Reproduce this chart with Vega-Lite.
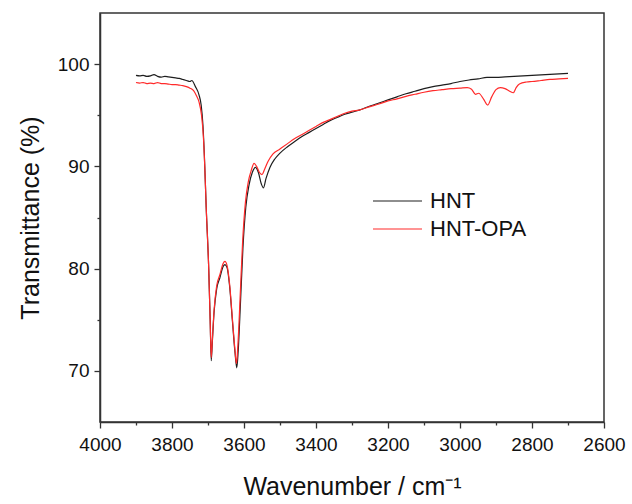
{
  "$schema": "https://vega.github.io/schema/vega-lite/v6.json",
  "autosize": "none",
  "width": 504,
  "height": 409,
  "padding": {"left": 100, "top": 13, "right": 28, "bottom": 82},
  "background": "white",
  "config": {
    "view": {"stroke": "#333333", "strokeWidth": 1.5},
    "font": "Liberation Sans"
  },
  "data": {
    "values": [
      {"w": 3900, "t": 98.9, "s": "HNT"},
      {"w": 3890, "t": 98.85, "s": "HNT"},
      {"w": 3880, "t": 98.9, "s": "HNT"},
      {"w": 3870, "t": 98.8, "s": "HNT"},
      {"w": 3860, "t": 98.85, "s": "HNT"},
      {"w": 3850, "t": 98.97, "s": "HNT"},
      {"w": 3840, "t": 98.8, "s": "HNT"},
      {"w": 3830, "t": 98.72, "s": "HNT"},
      {"w": 3820, "t": 98.8, "s": "HNT"},
      {"w": 3810, "t": 98.75, "s": "HNT"},
      {"w": 3800, "t": 98.7, "s": "HNT"},
      {"w": 3790, "t": 98.65, "s": "HNT"},
      {"w": 3780, "t": 98.6, "s": "HNT"},
      {"w": 3770, "t": 98.5, "s": "HNT"},
      {"w": 3760, "t": 98.4, "s": "HNT"},
      {"w": 3750, "t": 98.3, "s": "HNT"},
      {"w": 3745, "t": 98.4, "s": "HNT"},
      {"w": 3735, "t": 97.8, "s": "HNT"},
      {"w": 3725, "t": 97.0, "s": "HNT"},
      {"w": 3719, "t": 96.0, "s": "HNT"},
      {"w": 3714, "t": 94.0, "s": "HNT"},
      {"w": 3710, "t": 91.0, "s": "HNT"},
      {"w": 3705, "t": 86.0, "s": "HNT"},
      {"w": 3698, "t": 80.0, "s": "HNT"},
      {"w": 3694, "t": 75.0, "s": "HNT"},
      {"w": 3691, "t": 71.0, "s": "HNT"},
      {"w": 3688, "t": 72.8, "s": "HNT"},
      {"w": 3683, "t": 75.8, "s": "HNT"},
      {"w": 3676, "t": 78.0, "s": "HNT"},
      {"w": 3667, "t": 79.1, "s": "HNT"},
      {"w": 3658, "t": 80.2, "s": "HNT"},
      {"w": 3653, "t": 80.4, "s": "HNT"},
      {"w": 3647, "t": 80.1, "s": "HNT"},
      {"w": 3640, "t": 78.3, "s": "HNT"},
      {"w": 3632, "t": 74.8, "s": "HNT"},
      {"w": 3625, "t": 71.8, "s": "HNT"},
      {"w": 3620, "t": 70.3, "s": "HNT"},
      {"w": 3616, "t": 72.0, "s": "HNT"},
      {"w": 3610, "t": 76.5, "s": "HNT"},
      {"w": 3603, "t": 82.0, "s": "HNT"},
      {"w": 3595, "t": 86.0, "s": "HNT"},
      {"w": 3586, "t": 88.2, "s": "HNT"},
      {"w": 3577, "t": 89.4, "s": "HNT"},
      {"w": 3568, "t": 89.9, "s": "HNT"},
      {"w": 3560, "t": 89.4, "s": "HNT"},
      {"w": 3552, "t": 88.3, "s": "HNT"},
      {"w": 3546, "t": 87.9, "s": "HNT"},
      {"w": 3539, "t": 88.8, "s": "HNT"},
      {"w": 3528, "t": 89.9, "s": "HNT"},
      {"w": 3515, "t": 90.7, "s": "HNT"},
      {"w": 3500, "t": 91.3, "s": "HNT"},
      {"w": 3480, "t": 91.9, "s": "HNT"},
      {"w": 3460, "t": 92.4, "s": "HNT"},
      {"w": 3440, "t": 92.9, "s": "HNT"},
      {"w": 3420, "t": 93.3, "s": "HNT"},
      {"w": 3400, "t": 93.7, "s": "HNT"},
      {"w": 3380, "t": 94.1, "s": "HNT"},
      {"w": 3360, "t": 94.5, "s": "HNT"},
      {"w": 3340, "t": 94.8, "s": "HNT"},
      {"w": 3320, "t": 95.1, "s": "HNT"},
      {"w": 3300, "t": 95.3, "s": "HNT"},
      {"w": 3280, "t": 95.5, "s": "HNT"},
      {"w": 3250, "t": 95.9, "s": "HNT"},
      {"w": 3225, "t": 96.2, "s": "HNT"},
      {"w": 3200, "t": 96.5, "s": "HNT"},
      {"w": 3175, "t": 96.8, "s": "HNT"},
      {"w": 3150, "t": 97.1, "s": "HNT"},
      {"w": 3125, "t": 97.35, "s": "HNT"},
      {"w": 3100, "t": 97.6, "s": "HNT"},
      {"w": 3075, "t": 97.8, "s": "HNT"},
      {"w": 3050, "t": 97.95, "s": "HNT"},
      {"w": 3025, "t": 98.1, "s": "HNT"},
      {"w": 3000, "t": 98.3, "s": "HNT"},
      {"w": 2975, "t": 98.45, "s": "HNT"},
      {"w": 2950, "t": 98.55, "s": "HNT"},
      {"w": 2925, "t": 98.7, "s": "HNT"},
      {"w": 2900, "t": 98.7, "s": "HNT"},
      {"w": 2875, "t": 98.75, "s": "HNT"},
      {"w": 2850, "t": 98.8, "s": "HNT"},
      {"w": 2825, "t": 98.85, "s": "HNT"},
      {"w": 2800, "t": 98.9, "s": "HNT"},
      {"w": 2775, "t": 98.95, "s": "HNT"},
      {"w": 2750, "t": 99.0, "s": "HNT"},
      {"w": 2725, "t": 99.05, "s": "HNT"},
      {"w": 2700, "t": 99.1, "s": "HNT"},
      {"w": 3900, "t": 98.2, "s": "HNT-OPA"},
      {"w": 3890, "t": 98.15, "s": "HNT-OPA"},
      {"w": 3880, "t": 98.2, "s": "HNT-OPA"},
      {"w": 3870, "t": 98.1, "s": "HNT-OPA"},
      {"w": 3860, "t": 98.15, "s": "HNT-OPA"},
      {"w": 3850, "t": 98.1, "s": "HNT-OPA"},
      {"w": 3840, "t": 98.2, "s": "HNT-OPA"},
      {"w": 3830, "t": 98.1, "s": "HNT-OPA"},
      {"w": 3820, "t": 98.1, "s": "HNT-OPA"},
      {"w": 3810, "t": 98.05, "s": "HNT-OPA"},
      {"w": 3800, "t": 98.0, "s": "HNT-OPA"},
      {"w": 3790, "t": 98.0, "s": "HNT-OPA"},
      {"w": 3780, "t": 97.95, "s": "HNT-OPA"},
      {"w": 3770, "t": 97.9, "s": "HNT-OPA"},
      {"w": 3760, "t": 97.8, "s": "HNT-OPA"},
      {"w": 3750, "t": 97.65, "s": "HNT-OPA"},
      {"w": 3740, "t": 97.4, "s": "HNT-OPA"},
      {"w": 3732, "t": 96.9, "s": "HNT-OPA"},
      {"w": 3725, "t": 96.3, "s": "HNT-OPA"},
      {"w": 3718, "t": 95.0, "s": "HNT-OPA"},
      {"w": 3713, "t": 93.0, "s": "HNT-OPA"},
      {"w": 3709, "t": 90.0, "s": "HNT-OPA"},
      {"w": 3705, "t": 86.0, "s": "HNT-OPA"},
      {"w": 3698, "t": 80.0, "s": "HNT-OPA"},
      {"w": 3694, "t": 75.0, "s": "HNT-OPA"},
      {"w": 3691, "t": 71.3, "s": "HNT-OPA"},
      {"w": 3688, "t": 73.0, "s": "HNT-OPA"},
      {"w": 3683, "t": 76.0, "s": "HNT-OPA"},
      {"w": 3676, "t": 78.3, "s": "HNT-OPA"},
      {"w": 3667, "t": 79.4, "s": "HNT-OPA"},
      {"w": 3658, "t": 80.5, "s": "HNT-OPA"},
      {"w": 3653, "t": 80.7, "s": "HNT-OPA"},
      {"w": 3647, "t": 80.3, "s": "HNT-OPA"},
      {"w": 3640, "t": 78.5, "s": "HNT-OPA"},
      {"w": 3632, "t": 75.0, "s": "HNT-OPA"},
      {"w": 3625, "t": 72.0, "s": "HNT-OPA"},
      {"w": 3621, "t": 70.7, "s": "HNT-OPA"},
      {"w": 3617, "t": 72.5, "s": "HNT-OPA"},
      {"w": 3611, "t": 77.0, "s": "HNT-OPA"},
      {"w": 3604, "t": 82.5, "s": "HNT-OPA"},
      {"w": 3596, "t": 86.5, "s": "HNT-OPA"},
      {"w": 3588, "t": 88.5, "s": "HNT-OPA"},
      {"w": 3580, "t": 89.6, "s": "HNT-OPA"},
      {"w": 3572, "t": 90.3, "s": "HNT-OPA"},
      {"w": 3565, "t": 90.0, "s": "HNT-OPA"},
      {"w": 3557, "t": 89.4, "s": "HNT-OPA"},
      {"w": 3550, "t": 89.2, "s": "HNT-OPA"},
      {"w": 3543, "t": 89.7, "s": "HNT-OPA"},
      {"w": 3533, "t": 90.5, "s": "HNT-OPA"},
      {"w": 3520, "t": 91.2, "s": "HNT-OPA"},
      {"w": 3500, "t": 91.7, "s": "HNT-OPA"},
      {"w": 3480, "t": 92.2, "s": "HNT-OPA"},
      {"w": 3460, "t": 92.7, "s": "HNT-OPA"},
      {"w": 3440, "t": 93.1, "s": "HNT-OPA"},
      {"w": 3420, "t": 93.5, "s": "HNT-OPA"},
      {"w": 3400, "t": 93.9, "s": "HNT-OPA"},
      {"w": 3380, "t": 94.3, "s": "HNT-OPA"},
      {"w": 3360, "t": 94.6, "s": "HNT-OPA"},
      {"w": 3340, "t": 94.9, "s": "HNT-OPA"},
      {"w": 3320, "t": 95.2, "s": "HNT-OPA"},
      {"w": 3300, "t": 95.4, "s": "HNT-OPA"},
      {"w": 3280, "t": 95.5, "s": "HNT-OPA"},
      {"w": 3250, "t": 95.85, "s": "HNT-OPA"},
      {"w": 3225, "t": 96.1, "s": "HNT-OPA"},
      {"w": 3200, "t": 96.4, "s": "HNT-OPA"},
      {"w": 3175, "t": 96.6, "s": "HNT-OPA"},
      {"w": 3150, "t": 96.85, "s": "HNT-OPA"},
      {"w": 3125, "t": 97.05, "s": "HNT-OPA"},
      {"w": 3100, "t": 97.25, "s": "HNT-OPA"},
      {"w": 3075, "t": 97.4, "s": "HNT-OPA"},
      {"w": 3050, "t": 97.5, "s": "HNT-OPA"},
      {"w": 3025, "t": 97.6, "s": "HNT-OPA"},
      {"w": 3000, "t": 97.65, "s": "HNT-OPA"},
      {"w": 2980, "t": 97.7, "s": "HNT-OPA"},
      {"w": 2968, "t": 97.55, "s": "HNT-OPA"},
      {"w": 2957, "t": 97.05, "s": "HNT-OPA"},
      {"w": 2948, "t": 97.15, "s": "HNT-OPA"},
      {"w": 2935, "t": 96.6, "s": "HNT-OPA"},
      {"w": 2923, "t": 96.0, "s": "HNT-OPA"},
      {"w": 2912, "t": 96.8, "s": "HNT-OPA"},
      {"w": 2900, "t": 97.5, "s": "HNT-OPA"},
      {"w": 2888, "t": 97.7, "s": "HNT-OPA"},
      {"w": 2875, "t": 97.6, "s": "HNT-OPA"},
      {"w": 2862, "t": 97.35, "s": "HNT-OPA"},
      {"w": 2852, "t": 97.2, "s": "HNT-OPA"},
      {"w": 2844, "t": 97.7, "s": "HNT-OPA"},
      {"w": 2835, "t": 98.05, "s": "HNT-OPA"},
      {"w": 2815, "t": 98.25, "s": "HNT-OPA"},
      {"w": 2800, "t": 98.3, "s": "HNT-OPA"},
      {"w": 2775, "t": 98.4, "s": "HNT-OPA"},
      {"w": 2750, "t": 98.5, "s": "HNT-OPA"},
      {"w": 2725, "t": 98.55, "s": "HNT-OPA"},
      {"w": 2700, "t": 98.6, "s": "HNT-OPA"}
    ]
  },
  "mark": {"type": "line", "strokeWidth": 1.2, "interpolate": "monotone"},
  "encoding": {
    "x": {
      "field": "w",
      "type": "quantitative",
      "scale": {"domain": [2600, 4000], "reverse": true, "nice": false, "zero": false},
      "axis": {
        "values": [4000, 3900, 3800, 3700, 3600, 3500, 3400, 3300, 3200, 3100, 3000, 2900, 2800, 2700, 2600],
        "labelExpr": "datum.value % 200 === 0 ? datum.label : ''",
        "format": "d",
        "grid": false,
        "tickSize": {"condition": {"test": "datum.value % 200 === 0", "value": 6}, "value": 3},
        "tickColor": "#333333",
        "tickWidth": 1.3,
        "domainColor": "#333333",
        "domainWidth": 1.5,
        "labelFontSize": 19,
        "labelColor": "#111111",
        "labelPadding": 7,
        "labelFlush": false,
        "title": "Wavenumber / cm⁻¹",
        "titleFontSize": 25,
        "titleFontWeight": "normal",
        "titleColor": "#111111",
        "titlePadding": 20
      }
    },
    "y": {
      "field": "t",
      "type": "quantitative",
      "scale": {"domain": [65, 105], "nice": false, "zero": false},
      "axis": {
        "values": [70, 75, 80, 85, 90, 95, 100],
        "labelExpr": "datum.value % 10 === 0 ? datum.label : ''",
        "grid": false,
        "tickSize": {"condition": {"test": "datum.value % 10 === 0", "value": 6}, "value": 3},
        "tickColor": "#333333",
        "tickWidth": 1.3,
        "domainColor": "#333333",
        "domainWidth": 1.5,
        "labelFontSize": 19,
        "labelColor": "#111111",
        "labelPadding": 5,
        "title": "Transmittance (%)",
        "titleFontSize": 25,
        "titleFontWeight": "normal",
        "titleColor": "#111111",
        "titlePadding": 14
      }
    },
    "color": {
      "field": "s",
      "type": "nominal",
      "scale": {"domain": ["HNT", "HNT-OPA"], "range": ["#1e1e1e", "#ff2a2a"]},
      "legend": {
        "title": null,
        "orient": "none",
        "legendX": 272,
        "legendY": 174,
        "symbolType": "stroke",
        "symbolSize": 2401,
        "symbolStrokeWidth": 1.2,
        "clipHeight": 28,
        "rowPadding": 0,
        "padding": 0,
        "labelOffset": 7,
        "labelFontSize": 22,
        "labelColor": "#111111"
      }
    }
  }
}
